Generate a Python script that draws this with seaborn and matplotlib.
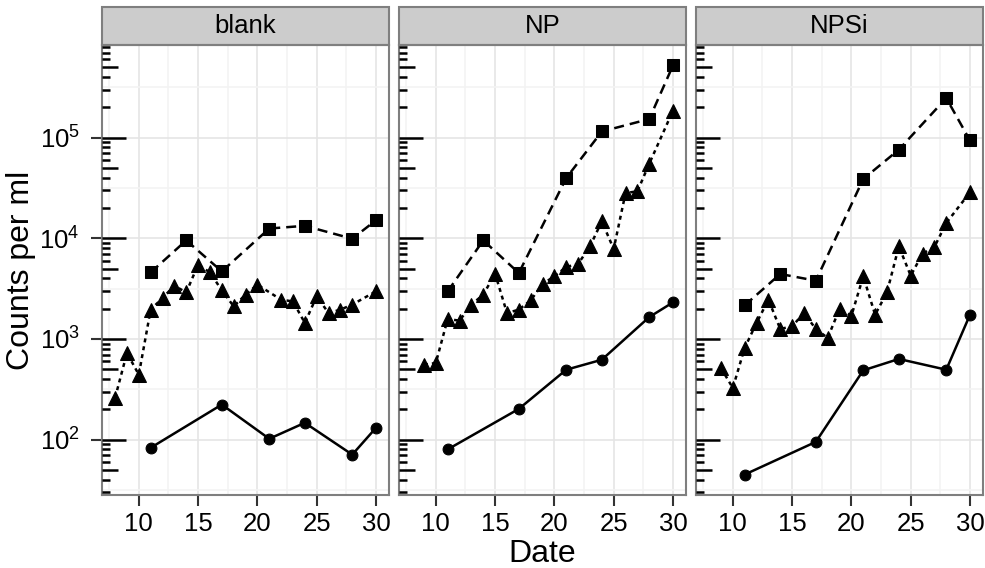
import numpy as np
import pandas as pd
import seaborn as sns
import matplotlib.pyplot as plt
from matplotlib.ticker import FixedLocator, AutoMinorLocator, FuncFormatter, NullFormatter
from matplotlib.patches import Rectangle

# data
treatments = ["blank", "NP", "NPSi"]

# circles, solid line
circle_dates = [11, 17, 21, 24, 28, 30]
circle_blank = [83, 223, 102, 147, 71, 131]
circle_np = [80, 202, 495, 622, 1650, 2310]
circle_npsi = [45, 95, 488, 633, 495, 1740]

# squares, dashed line
square_dates = [11, 14, 17, 21, 24, 28, 30]
square_blank = [4580, 9530, 4690, 12500, 13300, 9900, 15100]
square_np = [2970, 9530, 4520, 39700, 115000, 153000, 521000]
square_npsi = [2160, 4420, 3790, 38800, 75900, 247000, 93700]

# triangles, dotted line
tri_dates_blank = [8, 9, 10, 11, 12, 13, 14, 15, 16, 17, 18, 19, 20, 22, 23, 24, 25, 26, 27, 28, 30]
tri_blank = [260, 726, 442, 1955, 2550, 3380, 2900, 5470, 4580, 3040, 2110, 2750, 3460,
             2455, 2360, 1443, 2650, 1811, 1955, 2193, 2973]
tri_dates = [9, 10, 11, 12, 13, 14, 15, 16, 17, 18, 19, 20, 21, 22, 23, 24, 25, 26, 27, 28, 30]
tri_np = [556, 577, 1578, 1520, 2193, 2754, 4450, 1811, 1955, 2415, 3516, 4190, 5190,
          5560, 8320, 14720, 7830, 28200, 29250, 55100, 185000]
tri_npsi = [515, 326, 815, 1443, 2455, 1257, 1335, 1811, 1257, 1024, 1987, 1702, 4190,
            1742, 2900, 8320, 4254, 7030, 8190, 14200, 28600]

# long-form table
frames = []
series = [
    ("blank", "circle", circle_dates, circle_blank),
    ("NP", "circle", circle_dates, circle_np),
    ("NPSi", "circle", circle_dates, circle_npsi),
    ("blank", "triangle", tri_dates_blank, tri_blank),
    ("NP", "triangle", tri_dates, tri_np),
    ("NPSi", "triangle", tri_dates, tri_npsi),
    ("blank", "square", square_dates, square_blank),
    ("NP", "square", square_dates, square_np),
    ("NPSi", "square", square_dates, square_npsi),
]
for trt, kind, d, v in series:
    frames.append(pd.DataFrame({"Treatment": trt, "Type": kind, "Date": d, "Counts": v}))
df = pd.concat(frames, ignore_index=True)

sns.set_theme(style="white")
plt.rcParams["font.family"] = ["Liberation Sans", "DejaVu Sans"]
plt.rcParams["mathtext.fontset"] = "custom"
plt.rcParams["mathtext.rm"] = "Liberation Sans"
plt.rcParams["text.color"] = "black"
plt.rcParams["axes.labelcolor"] = "black"

markers = {"circle": "o", "triangle": "^", "square": "s"}
dashes = {"circle": "", "triangle": (1.6, 1.6), "square": (4, 2.4)}
marker_sizes = {"o": 7.8, "^": 9.8, "s": 8.2}

fig, axes = plt.subplots(1, 3, figsize=(9.85, 5.68), dpi=100, sharey=True)
fig.subplots_adjust(left=0.1036, right=0.998, bottom=0.1285, top=0.9208, wspace=0.035)

# log limits with 5% padding like ggplot
lo, hi = np.log10(df["Counts"].min()), np.log10(df["Counts"].max())
pad = 0.05 * (hi - lo)
xlo, xhi = df["Date"].min(), df["Date"].max()
xpad = 0.05 * (xhi - xlo)

strip_h = 38 / 450
for ax, trt in zip(axes, treatments):
    sub = df[df["Treatment"] == trt]
    ax.set_yscale("log")
    sns.lineplot(data=sub, x="Date", y="Counts", style="Type", markers=markers,
                 dashes=dashes, color="black", estimator=None, legend=False,
                 linewidth=1.8, markersize=8.5, markeredgecolor="black", ax=ax)
    for line in ax.lines:
        if line.get_marker() in marker_sizes:
            line.set_markersize(marker_sizes[line.get_marker()])

    # log ticks inside the panel
    for d in range(1, 6):
        for k in range(1, 10):
            ln = 0.0836 if k == 1 else (0.0557 if k == 5 else 0.0279)
            ax.plot([0, ln], [k * 10**d, k * 10**d], transform=ax.get_yaxis_transform(),
                    color="black", lw=1.8, solid_capstyle="butt", zorder=3)

    ax.set_xlim(xlo - xpad, xhi + xpad)
    ax.set_ylim(10**(lo - pad), 10**(hi + pad))
    ax.set_xticks([10, 15, 20, 25, 30])
    ax.xaxis.set_minor_locator(AutoMinorLocator(2))
    ax.yaxis.set_major_locator(FixedLocator([10**k for k in range(1, 7)]))
    ax.yaxis.set_minor_locator(FixedLocator([10**(k + 0.5) for k in range(0, 7)]))
    ax.yaxis.set_minor_formatter(NullFormatter())
    ax.yaxis.set_major_formatter(FuncFormatter(lambda v, p: r"$\mathregular{10^{%d}}$" % round(np.log10(v))))

    ax.set_axisbelow(True)
    ax.grid(which="major", color="#E5E5E5", lw=1.2)
    ax.grid(which="minor", color="#F3F3F3", lw=1.2)
    for s in ax.spines.values():
        s.set_color("#7F7F7F")
        s.set_linewidth(1.5)

    ax.tick_params(axis="x", which="major", direction="out", length=8, width=1.5,
                   color="#333333", labelcolor="black", labelsize=18.5, pad=4, bottom=True)
    ax.tick_params(which="minor", length=0)
    ax.set_xlabel("")
    ax.set_ylabel("")

    ax.add_patch(Rectangle((0, 1), 1, strip_h, transform=ax.transAxes, clip_on=False,
                           facecolor="#CCCCCC", edgecolor="#7F7F7F", lw=1.5))
    ax.text(0.5, 1 + strip_h / 2, trt, transform=ax.transAxes, ha="center", va="center",
            fontsize=18.5, color="black")

axes[0].tick_params(axis="y", which="major", direction="out", length=8, width=1.5,
                    color="#333333", labelcolor="black", labelsize=18.5, pad=8, left=True)
for ax in axes[1:]:
    ax.tick_params(axis="y", which="major", length=0, labelleft=False)

fig.text(21 / 985, 1 - 270 / 568, "Counts per ml", rotation=90, ha="center", va="center",
         fontsize=23, color="black")
fig.text(542 / 985, 1 - 554 / 568, "Date", ha="center", va="center", fontsize=23, color="black")

fig.savefig("out.png", dpi=100)
